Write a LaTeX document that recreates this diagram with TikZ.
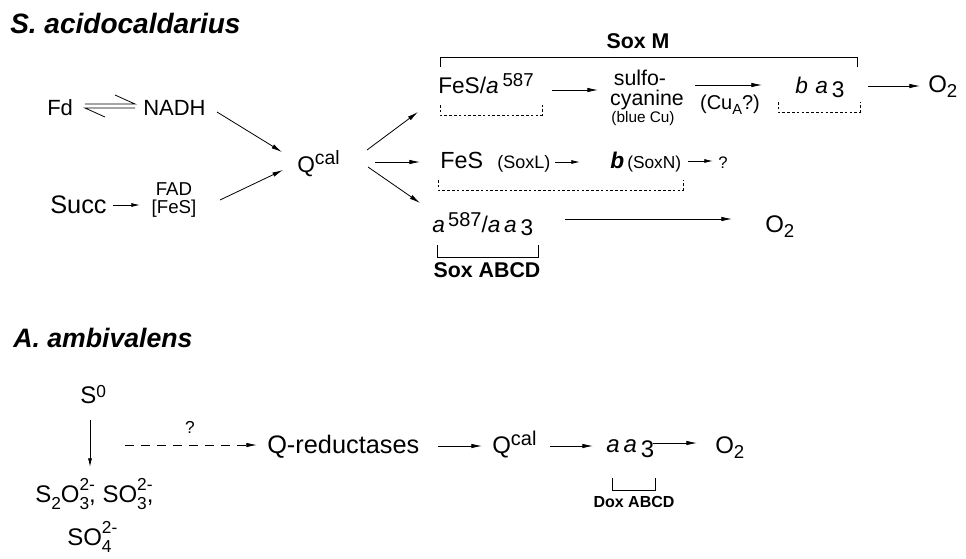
\documentclass[tikz,border=0pt]{standalone}
\usepackage{fontspec}
\setmainfont{Liberation Sans}
\usetikzlibrary{arrows.meta,calc}
\newcommand\fs[1]{\fontsize{#1}{#1}\selectfont}
\newcommand\subsup[2]{\rlap{\raisebox{0.48em}{\fs{13}#2}}\raisebox{-0.32em}{\fs{13}#1}}
\begin{document}
\begin{tikzpicture}[x=0.75pt,y=-0.75pt,
 txt/.style={inner sep=0pt,anchor=base west},
 ctxt/.style={inner sep=0pt,anchor=base},
 ln/.style={line width=0.6pt},
 arr/.style={ln,-{Latex[length=8pt,width=3.4pt]}},
 sarr/.style={ln,-{Latex[length=6.5pt,width=3pt]}},
 dbrk/.style={ln,dash pattern=on 2pt off 1.6pt}]
\useasboundingbox (0,0) rectangle (966,558);

% titles
\node[txt,font=\fs{21}\bfseries\itshape] (t1) at (10,33) {S. acidocaldarius};
\node[txt,font=\fs{20}\bfseries\itshape] (t2) at (13,347) {A. ambivalens};

% left inputs
\node[txt,font=\fs{16.5}] (fd) at (47,115) {Fd};
\node[txt,font=\fs{16.5}] (nadh) at (143,115) {NADH};
\draw[ln] ($(fd.base west)+(38,-11)$) -- ($(nadh.base west)+(-8,-11)$) -- ($(nadh.base west)+(-28,-20)$);
\draw[ln] ($(nadh.base west)+(-8,-7)$) -- ($(fd.base west)+(38,-7)$) -- ($(fd.base west)+(58,2)$);
\node[txt,font=\fs{19}] (succ) at (50,213) {Succ};
\node[ctxt,font=\fs{14}] (fad) at (174,195) {FAD};
\node[ctxt,font=\fs{14}] (fes1) at (174,213) {[FeS]};
\draw[sarr] ($(succ.base west)+(63,-8)$) -- ($(fad.base)+(-34,10)$);

\node[txt,font=\fs{17}] (qcal) at (297,172) {Q\raisebox{5.3pt}{\fs{14.5}cal}};
\draw[arr] ($(nadh.base west)+(74,-3)$) -- ($(qcal.base west)+(-15,-20)$);
\draw[arr] ($(fad.base)+(46,5)$) -- ($(qcal.base west)+(-14,-2)$);

% Sox M
\node[ctxt,font=\fs{16}\bfseries] (soxm) at (638,48) {Sox M};
\draw[ln] (440,67) |- (857,57) -- (857,67);

\node[txt,font=\fs{17}] (fesa) at (438,93) {FeS/\textit{a}\,\raisebox{5pt}{\fs{14}587}};
\draw[dbrk] (440,105) |- (542,115) -- (542,105);
\node[ctxt,font=\fs{16}] (sulfo) at (640,85) {sulfo-};
\node[ctxt,font=\fs{16}] (cyan) at (647,105) {cyanine};
\node[ctxt,font=\fs{11.5}] (bluecu) at (643,122) {(blue Cu)};
\node[ctxt,font=\fs{15}] (cua) at (730,109) {(Cu\raisebox{-0.25em}{\fs{11}A}?)};
\node[txt,font=\fs{17}] (ba3) at (795,93) {\textit{b}\,\,\textit{a}\,\raisebox{-3pt}{3}};
\draw[dbrk] (778,102) |- (860,112) -- (860,102);
\node[txt,font=\fs{18}] (o2a) at (928,92) {O\raisebox{-0.22em}{\fs{14}2}};
\draw[arr] ($(fesa.base west)+(114,-3)$) -- ($(cyan.base)+(-49,-15)$);
\draw[arr] ($(cyan.base)+(48,-20)$) -- ($(ba3.base west)+(-33,-8)$);
\draw[arr] ($(ba3.base west)+(73,-7)$) -- ($(o2a.base west)+(-8,-6)$);

\node[txt,font=\fs{17.5}] (fes3) at (440,168) {FeS};
\node[txt,font=\fs{13.5}] (soxl) at (497,168) {(SoxL)};
\node[txt,font=\fs{17}\bfseries\itshape] (bn) at (610,168) {b};
\node[txt,font=\fs{13}] (soxn) at (627,168) {(SoxN)};
\node[txt,font=\fs{12.5}] (qm) at (718,168) {?};
\draw[dbrk] (438,180) |- (683,190) -- (683,180);
\draw[sarr] ($(soxl.base west)+(58,-6)$) -- ($(bn.base west)+(-30,-6)$);
\draw[sarr] ($(soxn.base west)+(61,-7)$) -- ($(qm.base west)+(-5,-7)$);

\node[txt,font=\fs{17}] (a587) at (432,232) {\textit{a}\raisebox{4pt}{\fs{15}\,587}/\textit{a}\,\textit{a}\,\raisebox{-2.5pt}{3}};
\node[txt,font=\fs{18}] (o2b) at (765,232) {O\raisebox{-0.22em}{\fs{14}2}};
\draw[arr] ($(a587.base west)+(133,-13)$) -- ($(o2b.base west)+(-33,-13)$);
\draw[ln] (437,245) |- (538,257) -- (538,245);
\node[ctxt,font=\fs{16}\bfseries] (soxabcd) at (487,277) {Sox ABCD};

\draw[arr] ($(qcal.base west)+(70,-22)$) -- ($(fesa.base west)+(-20,19)$);
\draw[arr] ($(qcal.base west)+(78,-10)$) -- ($(fes3.base west)+(-20,-6)$);
\draw[arr] ($(qcal.base west)+(71,-5)$) -- ($(a587.base west)+(-12,-29)$);

% bottom
\node[txt,font=\fs{18}] (s0) at (80,403) {S\raisebox{4.5pt}{\fs{13}0}};
\node[txt,font=\fs{18}] (s2o3) at (35,502) {S\raisebox{-0.32em}{\fs{13}2}O\subsup{3}{2-}, SO\subsup{3}{2-},};
\node[txt,font=\fs{18}] (so4) at (67,545) {SO\subsup{4}{2-}};
\draw[sarr] ($(s0.base west)+(10,17)$) -- ($(s2o3.base west)+(55,-35)$);
\node[txt,font=\fs{19}] (qred) at (267,453) {Q-reductases};
\draw[arr,dash pattern=on 7pt off 5pt] ($(s2o3.base west)+(90,-57)$) -- ($(qred.base west)+(-10,-8)$);
\node[ctxt,font=\fs{13}] (qd) at (190,433) {?};
\node[txt,font=\fs{18}] (qcal2) at (492,453) {Q\raisebox{5.5pt}{\fs{15}cal}};
\node[txt,font=\fs{18}] (aa3) at (606,452) {\textit{a}\,\textit{a}\,\raisebox{-4pt}{3}};
\node[txt,font=\fs{18}] (o2c) at (715,453) {O\raisebox{-0.22em}{\fs{14}2}};
\draw[arr] ($(qred.base west)+(171,-7)$) -- ($(qcal2.base west)+(-10,-7)$);
\draw[arr] ($(qcal2.base west)+(58,-7)$) -- ($(aa3.base west)+(-13,-6)$);
\draw[arr] ($(aa3.base west)+(47,-9)$) -- ($(o2c.base west)+(-18,-10)$);
\draw[ln] (612,478) |- (655,490) -- (655,478);
\node[ctxt,font=\fs{12}\bfseries] (dox) at (634,507) {Dox ABCD};
\end{tikzpicture}
\end{document}
